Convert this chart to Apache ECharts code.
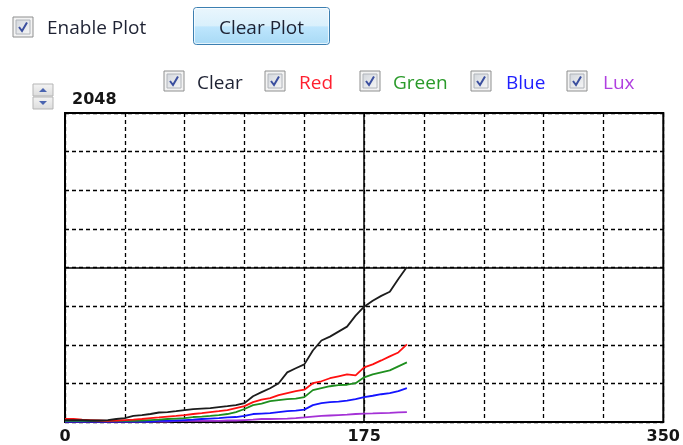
<!DOCTYPE html>
<html>
<head>
<meta charset="utf-8">
<script src="https://cdn.jsdelivr.net/npm/echarts@6/dist/echarts.min.js"></script>
<style>
html,body{margin:0;padding:0;background:#fff;}
#c{width:683px;height:445px;}
</style>
</head>
<body>
<div id="c"></div>
<script>
// ---- data ----
var xs = [0,5,10,15,20,25,30,35,40,45,50,55,60,65,70,75,80,85,90,95,100,105,110,115,120,125,130,135,140,145,150,155,160,165,170,175,180,185,190,195,200];
var clearVals = [13,13,13,10,10,13,20,26,40,46,53,63,66,72,79,86,89,92,99,105,112,125,171,198,224,257,329,356,382,474,540,566,599,632,705,764,803,836,863,948,1027];
var redVals   = [20,20,16,13,10,7,10,13,16,20,26,30,36,40,46,53,59,66,72,79,92,105,132,148,158,178,191,204,214,257,270,290,303,316,309,362,382,408,435,461,514];
var greenVals = [7,7,7,7,7,7,7,7,7,10,13,16,20,23,26,33,36,40,46,53,66,86,112,122,138,145,151,155,165,211,224,237,244,247,257,296,316,329,342,369,395];
var blueVals  = [3,3,3,3,3,3,3,3,3,3,3,7,7,10,13,16,20,23,26,30,33,40,53,56,59,66,72,76,82,112,125,132,135,141,151,165,174,184,191,204,224];
var luxVals   = [3,3,3,3,3,3,3,3,3,3,3,3,3,7,7,7,7,7,7,10,10,13,16,20,20,21,23,26,30,36,40,43,46,49,53,56,57,59,61,64,66];
var seriesNames = ['Clear','Red','Green','Blue','Lux'];
var xTickLabels = ['0','175','350'];
var yTopLabel = '2048';

var lineColors = ['#1c1c1c','#ff1010','#1f8f1f','#1414ff','#a431d6'];
var legendTextColors = ['#1e2233','#ff1f2f','#2a9a2a','#2020ff','#b040e0'];
var allVals = [clearVals, redVals, greenVals, blueVals, luxVals];

function pairs(v){ return xs.map(function(x,i){ return [x, v[i]]; }); }

function checkbox(x, y){
  return {
    type:'group', x:x, y:y, children:[
      {type:'rect', shape:{x:0,y:0,width:20,height:20}, style:{fill:'#f3f3f3', stroke:'#8e8f8f', lineWidth:1}},
      {type:'rect', shape:{x:3,y:3,width:14,height:14}, style:{
        fill:{type:'linear',x:0,y:0,x2:1,y2:1,colorStops:[{offset:0,color:'#d2d6dc'},{offset:1,color:'#f7f7f7'}]},
        stroke:'#b0b4ba', lineWidth:1}},
      {type:'polyline', shape:{points:[[6,10],[9,14],[14,5.5]]}, style:{stroke:'#3b4f9f', lineWidth:2, fill:null}}
    ]
  };
}

var uiFont = '"Open Sans", sans-serif';
var graphics = [];
// Enable Plot checkbox
graphics.push(checkbox(13,17));
graphics.push({type:'text', x:47, y:29, style:{text:'Enable Plot', font:'19px '+uiFont, fill:'#1e2233', textVerticalAlign:'middle'}});
// Clear Plot button
graphics.push({type:'rect', shape:{x:193.5,y:7.5,width:136,height:37,r:3}, style:{
  fill:{type:'linear',x:0,y:0,x2:0,y2:1,colorStops:[{offset:0,color:'#eaf6fd'},{offset:0.5,color:'#d9f0fc'},{offset:0.52,color:'#bee6fd'},{offset:1,color:'#a7d9f5'}]},
  stroke:'#3c7fb1', lineWidth:1}});
graphics.push({type:'rect', shape:{x:194.5,y:8.5,width:134,height:35,r:2}, style:{fill:null, stroke:'rgba(255,255,255,0.7)', lineWidth:1}});
graphics.push({type:'text', x:261.5, y:29, style:{text:'Clear Plot', font:'19px '+uiFont, fill:'#1e2233', textAlign:'center', textVerticalAlign:'middle'}});
// legend checkboxes
var cbX = [164,265,360,471,567];
var txX = [197,299,393,506,603];
seriesNames.forEach(function(n,i){
  graphics.push(checkbox(cbX[i],71));
  graphics.push({type:'text', x:txX[i], y:84, style:{text:n, font:'19px '+uiFont, fill:legendTextColors[i], textVerticalAlign:'middle'}});
});
// spinner
graphics.push({type:'group', x:33, y:84, children:[
  {type:'rect', shape:{x:0,y:0,width:20,height:12}, style:{fill:{type:'linear',x:0,y:0,x2:0,y2:1,colorStops:[{offset:0,color:'#f4f4f4'},{offset:1,color:'#dcdcdc'}]}, stroke:'#b5b5b5', lineWidth:1}},
  {type:'rect', shape:{x:0,y:13,width:20,height:12}, style:{fill:{type:'linear',x:0,y:0,x2:0,y2:1,colorStops:[{offset:0,color:'#f4f4f4'},{offset:1,color:'#dcdcdc'}]}, stroke:'#b5b5b5', lineWidth:1}},
  {type:'polygon', shape:{points:[[6,8],[14,8],[10,4]]}, style:{fill:'#4a64b0'}},
  {type:'polygon', shape:{points:[[6,17],[14,17],[10,21]]}, style:{fill:'#4a64b0'}}
]});
graphics.push({type:'text', x:72, y:100, style:{text:yTopLabel, font:'bold 16px "DejaVu Sans"', fill:'#151515', textVerticalAlign:'middle'}});

var series = seriesNames.map(function(n,i){
  return {
    name:n, type:'line', showSymbol:false, data:pairs(allVals[i]),
    lineStyle:{color:lineColors[i], width:1.8}, itemStyle:{color:lineColors[i]},
    z: 10 - i, animation:false
  };
});
// solid centre lines
series.push({
  type:'line', data:[], silent:true,
  markLine:{silent:true, symbol:'none', label:{show:false}, animation:false,
    lineStyle:{color:'#000', type:'solid', width:1.5},
    data:[{xAxis:175},{yAxis:1024}]}
});

var chart = echarts.init(document.getElementById('c'));
chart.setOption({
  backgroundColor:'#fff',
  animation:false,
  grid:{left:65, top:113, width:599, height:311, show:true, borderColor:'#000', borderWidth:2, backgroundColor:'transparent'},
  xAxis:{
    type:'value', min:0, max:350, interval:35,
    axisLine:{show:false}, axisTick:{show:false},
    splitLine:{show:true, lineStyle:{color:'#000', type:[4,3], width:1.3}},
    axisLabel:{show:true, showMinLabel:true, showMaxLabel:true, margin:7,
      fontFamily:'DejaVu Sans', fontWeight:'bold', fontSize:16, color:'#151515',
      formatter:function(v){ var s=String(v); return xTickLabels.indexOf(s)>=0 ? s : ''; }}
  },
  yAxis:{
    type:'value', min:0, max:2048, interval:256,
    axisLine:{show:false}, axisTick:{show:false}, axisLabel:{show:false},
    splitLine:{show:true, lineStyle:{color:'#000', type:[4,3], width:1.3}}
  },
  graphic:graphics,
  series:series
});
</script>
</body>
</html>
